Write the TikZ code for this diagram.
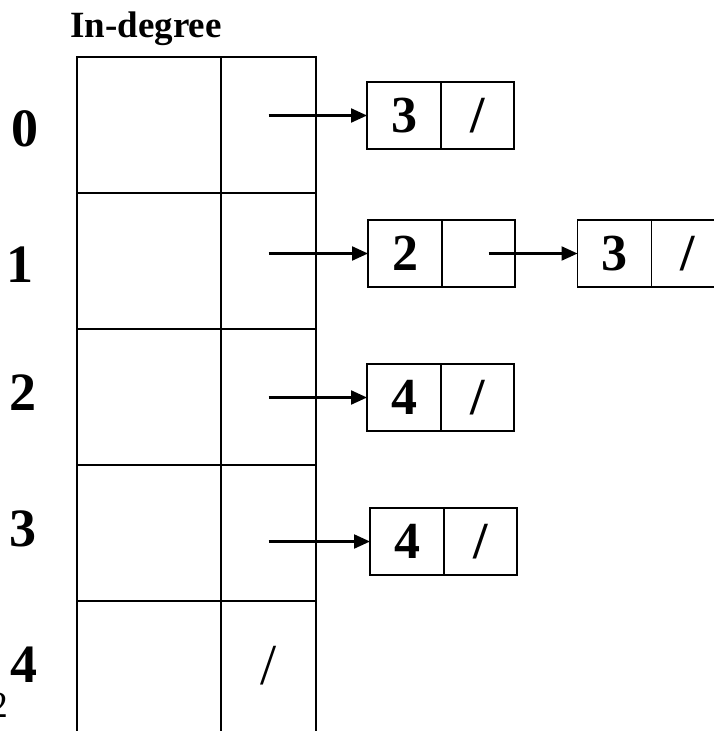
\documentclass[tikz,border=0pt]{standalone}
\usepackage{fontspec}
\setmainfont{Liberation Serif}
\usetikzlibrary{positioning, arrows.meta}
\tikzset{
	x=1pt, y=-1pt, % one unit is one pixel, y runs downwards
	node distance=0pt, % cells touch each other
	every node/.style={inner sep=0pt, outer sep=0pt},
	cell/.style={draw, line width=2.4pt, minimum width=144pt, minimum height=136pt}, % left column of the table
	ptr/.style={draw, line width=2.4pt, minimum width=95pt, minimum height=136pt}, % right column of the table
	key/.style={draw, line width=1.8pt, minimum width=74pt, minimum height=67pt, font=\fontsize{52}{56}\selectfont\bfseries}, % list item
	nxt/.style={key, minimum width=73pt}, % next field of a list item
	idx/.style={anchor=base, font=\fontsize{54}{58}\selectfont\bfseries}, % row numbers
	link/.style={-{Triangle[length=16pt,width=14pt]}, line width=2.2pt}, % pointers
}
\begin{document}
\begin{tikzpicture}
	\useasboundingbox (0,0) rectangle (714,731);
	\node[anchor=base, font=\fontsize{37}{40}\selectfont\bfseries] (title) at (146,37) {In-degree};

	% table
	\node[cell] (t0) at (149,125) {};
	\node[cell, below=of t0] (t1) {};
	\node[cell, below=of t1] (t2) {};
	\node[cell, below=of t2] (t3) {};
	\node[cell, below=of t3] (t4) {};
	\node[ptr, right=of t0] (p0) {};
	\node[ptr, right=of t1] (p1) {};
	\node[ptr, right=of t2] (p2) {};
	\node[ptr, right=of t3] (p3) {};
	\node[ptr, right=of t4, font=\fontsize{58}{60}\selectfont] (p4) {\raisebox{8pt}{/}};

	% row numbers
	\node[idx] (l0) at (25,146) {0};
	\node[idx] (l1) at (20,282) {1};
	\node[idx] (l2) at (23,410) {2};
	\node[idx] (l3) at (23,546) {3};
	\node[idx] (l4) at (24,682) {4};
	\node[anchor=base east, font=\fontsize{37}{40}\selectfont] (pg) at (8,717) {2};

	% lists
	\node[key] (k0) at (404,115.5) {3};
	\node[nxt, right=of k0] (n0) {/};
	\node[key] (k1) at (405,253.5) {2};
	\node[nxt, right=of k1] (n1) {};
	\node[key] (m1) at (614.5,253.5) {3};
	\node[nxt, right=of m1] (m1n) {/};
	\node[key] (k2) at (404,397.5) {4};
	\node[nxt, right=of k2] (n2) {/};
	\node[key] (k3) at (407,541.5) {4};
	\node[nxt, right=of k3] (n3) {/};

	\draw[link] (p0.center |- k0.west) -- (k0.west);
	\draw[link] (p1.center |- k1.west) -- (k1.west);
	\draw[link] ([xshift=10pt]n1.center) -- (m1.west);
	\draw[link] (p2.center |- k2.west) -- (k2.west);
	\draw[link] (p3.center |- k3.west) -- (k3.west);
\end{tikzpicture}
\end{document}
